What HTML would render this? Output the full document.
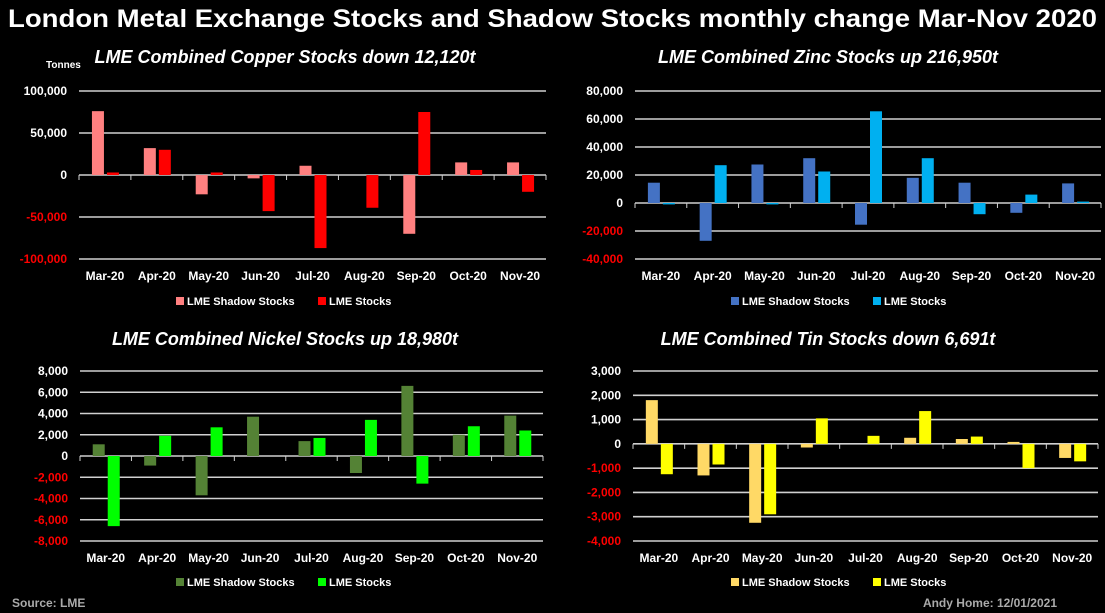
<!DOCTYPE html>
<html><head><meta charset="utf-8"><style>
html,body{margin:0;padding:0;background:#000;}
svg{display:block;}
text{font-family:"Liberation Sans",sans-serif;}
</style></head><body>
<svg id="root" width="1105" height="613" viewBox="0 0 1105 613">
<rect width="1105" height="613" fill="#000"/>
<text x="8" y="27" fill="#fff" font-size="25" font-weight="bold" textLength="1089" lengthAdjust="spacingAndGlyphs" style="font-family:'Liberation Sans Narrow','Liberation Sans',sans-serif">London Metal Exchange Stocks and Shadow Stocks monthly change Mar-Nov 2020</text>
<text x="46" y="68" fill="#fff" font-size="10" font-weight="bold">Tonnes</text>
<text x="12" y="607" fill="#aaa" font-size="12" font-weight="bold">Source: LME</text>
<text x="1057" y="607" fill="#aaa" font-size="12" font-weight="bold" text-anchor="end">Andy Home: 12/01/2021</text>
</svg>
<script>
const categories = ["Mar-20","Apr-20","May-20","Jun-20","Jul-20","Aug-20","Sep-20","Oct-20","Nov-20"];
const copperShadow = [76000,32000,-23000,-4000,11000,0,-70000,15000,15000];
const copperLme = [3000,30000,3000,-43000,-87000,-39000,75000,6000,-20000];
const copperTicks = [100000,50000,0,-50000,-100000];
const zincShadow = [14500,-27000,27500,32000,-15500,18000,14500,-7000,14000];
const zincLme = [-1000,27000,-1000,22500,65500,32000,-8000,6000,1000];
const zincTicks = [80000,60000,40000,20000,0,-20000,-40000];
const nickelShadow = [1100,-900,-3700,3700,1400,-1600,6600,2000,3800];
const nickelLme = [-6600,1900,2700,0,1700,3400,-2600,2800,2400];
const nickelTicks = [8000,6000,4000,2000,0,-2000,-4000,-6000,-8000];
const tinShadow = [1800,-1300,-3250,-150,0,250,200,80,-580];
const tinLme = [-1250,-850,-2900,1050,330,1350,300,-1000,-720];
const tinTicks = [3000,2000,1000,0,-1000,-2000,-3000,-4000];

const NS="http://www.w3.org/2000/svg";
const root=document.getElementById('root');
function mk(tag,attrs,parent){const e=document.createElementNS(NS,tag);for(const k in attrs)e.setAttribute(k,attrs[k]);(parent||root).appendChild(e);return e;}
const fmt=v=>v.toLocaleString('en-US');

function drawChart(o){
  const g=mk('g',{});
  
  
  const max=o.ticks[0], min=o.ticks[o.ticks.length-1];
  const y=v=>o.yTop+(max-v)/(max-min)*(o.yBot-o.yTop);
  const step=(o.x1-o.x0)/categories.length;
  const cx=i=>o.x0+step*(i+0.5);
  const t=mk('text',{x:o.titleX,y:o.titleY,fill:'#fff','font-size':18,'font-weight':'bold','font-style':'italic','text-anchor':'middle'},g);
  t.textContent=o.title;
  
  
  o.ticks.forEach(v=>{
    const gl=mk('line',{x1:o.x0,x2:o.x1,y1:y(v),y2:y(v),stroke:'#d0d0d0','stroke-width':1.6},g);
    
    
    const tl=mk('text',{x:o.x0-12,y:y(v)+4,fill:v<0?'#ff0000':'#fff','font-size':12,'font-weight':'bold','text-anchor':'end'},g);
    tl.textContent=fmt(v);
    
    
  });
  for(let i=0;i<=categories.length;i++){
    const tk=mk('line',{x1:o.x0+step*i,x2:o.x0+step*i,y1:y(0),y2:y(0)+5,stroke:'#d0d0d0','stroke-width':1},g);
    
    
  }
  categories.forEach((c,i)=>{
    const xl=mk('text',{x:cx(i),y:o.yBot+21,fill:'#fff','font-size':12,'font-weight':'bold','text-anchor':'middle'},g);
    xl.textContent=c;
    
    
    [[o.s1,o.c1,-13],[o.s2,o.c2,2]].forEach(([arr,col,off],k)=>{
      const v=arr[i];
      const b=mk('rect',{x:cx(i)+off,width:12,y:Math.min(y(v),y(0)),height:Math.max(Math.abs(y(v)-y(0)),0),fill:col},g);
      
      
    });
  });
  const lx=o.legendX, ly=o.legendY;
  [[o.c1,'LME Shadow Stocks',0],[o.c2,'LME Stocks',142]].forEach(([col,lab,dx],k)=>{
    const sw=mk('rect',{x:lx+dx,y:ly-8,width:8,height:8,fill:col},g);
    
    
    const lt=mk('text',{x:lx+dx+11,y:ly,fill:'#fff','font-size':11,'font-weight':'bold'},g);
    lt.textContent=lab;
    
    
  });
}
drawChart({id:'copper',title:'LME Combined Copper Stocks down 12,120t',titleX:285,titleY:63,ticks:copperTicks,yTop:91,yBot:259,x0:79,x1:546,s1:copperShadow,s2:copperLme,c1:'#ff8080',c2:'#ff0000',legendX:176,legendY:305});
drawChart({id:'zinc',title:'LME Combined Zinc Stocks up 216,950t',titleX:828,titleY:63,ticks:zincTicks,yTop:91,yBot:259,x0:635,x1:1101,s1:zincShadow,s2:zincLme,c1:'#4472c4',c2:'#00b0f0',legendX:731,legendY:305});
drawChart({id:'nickel',title:'LME Combined Nickel Stocks up 18,980t',titleX:285,titleY:345,ticks:nickelTicks,yTop:371,yBot:541,x0:80,x1:543,s1:nickelShadow,s2:nickelLme,c1:'#548235',c2:'#00ff00',legendX:176,legendY:586});
drawChart({id:'tin',title:'LME Combined Tin Stocks down 6,691t',titleX:828,titleY:345,ticks:tinTicks,yTop:371,yBot:541,x0:633,x1:1098,s1:tinShadow,s2:tinLme,c1:'#ffd966',c2:'#ffff00',legendX:731,legendY:586});
</script>
</body></html>
